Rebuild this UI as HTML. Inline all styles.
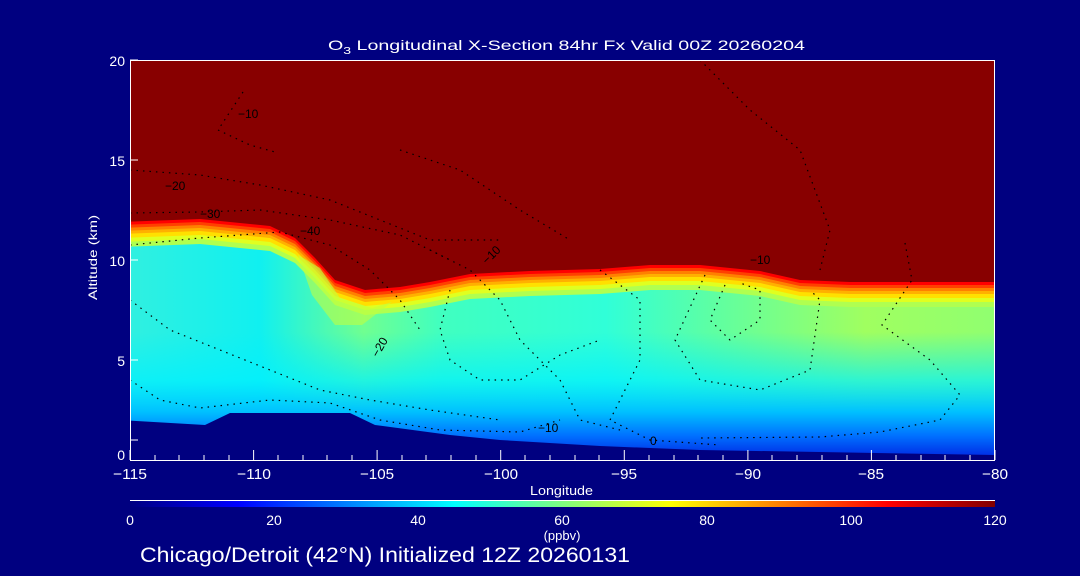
<!DOCTYPE html>
<html><head><meta charset="utf-8"><style>
html,body{margin:0;padding:0;background:#000080;}
svg{display:block;font-family:"Liberation Sans",sans-serif;}
text{fill:#fff;}
</style></head><body>
<svg width="1080" height="576" viewBox="0 0 1080 576" xmlns="http://www.w3.org/2000/svg" xmlns:xlink="http://www.w3.org/1999/xlink">
<defs>
<clipPath id="pc"><rect x="130" y="60" width="865" height="400"/></clipPath>
<path id="tp" d="M120 222 L200 219 L270 226 L295 238 L315 258 L335 280 L365 290 L400 287 L430 282 L470 274 L530 271 L600 269 L650 265 L700 265 L760 271 L800 280 L850 282 L1000 282 L1000 470 L120 470Z"/>
<linearGradient id="hz" x1="130" y1="0" x2="995" y2="0" gradientUnits="userSpaceOnUse">
<stop offset="0" stop-color="#30f0e0"/>
<stop offset="0.15" stop-color="#10f0f0"/>
<stop offset="0.27" stop-color="#70ff90"/>
<stop offset="0.36" stop-color="#40ffc0"/>
<stop offset="0.55" stop-color="#30ffd8"/>
<stop offset="0.68" stop-color="#60ffa0"/>
<stop offset="0.85" stop-color="#a0ff60"/>
<stop offset="1" stop-color="#90ff70"/>
</linearGradient>
<linearGradient id="vt" x1="0" y1="60" x2="0" y2="460" gradientUnits="userSpaceOnUse">
<stop offset="0.68" stop-color="#00f0ff" stop-opacity="0"/>
<stop offset="0.8" stop-color="#00f0ff" stop-opacity="0.7"/>
<stop offset="0.88" stop-color="#00c0ff" stop-opacity="1"/>
<stop offset="0.94" stop-color="#0070ff" stop-opacity="1"/>
<stop offset="1" stop-color="#0020e0" stop-opacity="1"/>
</linearGradient>
<linearGradient id="cb" x1="0" y1="0" x2="1" y2="0">
<stop offset="0" stop-color="#000080"/>
<stop offset="0.125" stop-color="#0000ff"/>
<stop offset="0.375" stop-color="#00ffff"/>
<stop offset="0.625" stop-color="#ffff00"/>
<stop offset="0.875" stop-color="#ff0000"/>
<stop offset="1" stop-color="#800000"/>
</linearGradient>
</defs>
<g clip-path="url(#pc)">
<rect x="130" y="60" width="865" height="400" fill="#880000"/>
<use xlink:href="#tp" fill="#ff0000"/>
<use xlink:href="#tp" transform="translate(0,3)" fill="#ff4000"/>
<use xlink:href="#tp" transform="translate(0,6)" fill="#ff8000"/>
<use xlink:href="#tp" transform="translate(0,9)" fill="#ffb000"/>
<use xlink:href="#tp" transform="translate(0,12)" fill="#ffe000"/>
<use xlink:href="#tp" transform="translate(0,16)" fill="#e0ff20"/>
<use xlink:href="#tp" transform="translate(0,20)" fill="#b0ff50"/>
<use xlink:href="#tp" transform="translate(0,25)" fill="url(#hz)"/>
<path d="M298 255 L320 268 L340 298 L372 308 L392 302 L362 325 L335 325 L312 295Z" fill="#c0ff40" opacity="0.6"/>
<rect x="130" y="60" width="865" height="400" fill="url(#vt)"/>
<path d="M120 420 L205 425 L230 413 L350 413 L375 425 L450 435 L500 440 L600 446 L700 450 L995 455 L1000 470 L120 470Z" fill="#000080"/>
<g fill="none" stroke="#000" stroke-width="1.2" stroke-dasharray="1.5,5">
<path d="M243 92 L218 130 L250 145 L275 152"/>
<path d="M130 170 L200 175 L260 185 L330 200 L380 220 L430 240 L500 240"/>
<path d="M130 213 L200 212 L260 210 L330 220 L400 235 L450 260"/>
<path d="M130 245 L200 238 L280 232 L330 245 L370 270 L400 300 L420 330"/>
<path d="M400 150 L460 170 L520 210 L570 240"/>
<path d="M430 250 L470 270 L500 300 L520 340 L560 380 L580 420 L620 430"/>
<path d="M450 290 L440 330 L450 360 L480 380 L520 380 L560 355 L600 340"/>
<path d="M600 270 L640 300 L640 360 L610 420 L650 440 L720 445"/>
<path d="M700 60 L750 110 L800 150 L830 230 L820 270"/>
<path d="M705 275 L675 340 L700 380 L760 390 L810 370 L820 300 L810 290"/>
<path d="M725 285 L710 320 L730 340 L760 320 L760 290 L740 283"/>
<path d="M905 243 L912 280 L882 325 L930 360 L960 395 L940 420 L880 432 L820 437 L700 438"/>
<path d="M130 300 L170 330 L220 350 L270 370 L320 390 L370 400 L430 410 L500 420"/>
<path d="M130 380 L160 400 L200 408 L270 400 L330 403 L380 420 L440 430 L520 432 L560 420"/>
</g>
<g font-size="12">
<text x="238" y="118" style="fill:#000">−10</text>
<text x="165" y="190" style="fill:#000">−20</text>
<text x="200" y="218" style="fill:#000">−30</text>
<text x="300" y="235" style="fill:#000">−40</text>
<text x="487" y="265" style="fill:#000" transform="rotate(-45 487 265)">−10</text>
<text x="378" y="358" style="fill:#000" transform="rotate(-60 378 358)">−20</text>
<text x="538" y="432" style="fill:#000">−10</text>
<text x="750" y="264" style="fill:#000">−10</text>
<text x="650" y="445" style="fill:#000">0</text>
</g>
</g>
<g stroke="#fff" stroke-width="1" fill="none">
<line x1="130" y1="60.5" x2="995" y2="60.5"/>
<line x1="994.5" y1="60" x2="994.5" y2="460"/>
<line x1="130" y1="460.5" x2="995" y2="460.5"/>
<line x1="130.5" y1="60" x2="130.5" y2="460"/>
<path d="M130 60h8M130 160h8M130 260h8M130 360h8M130 440h8"/>
<path d="M130 460v-10M253.6 460v-10M377.1 460v-10M500.7 460v-10M624.3 460v-10M747.9 460v-10M871.4 460v-10M995 460v-10"/>
<path d="M155 460v-5M179 460v-5M204 460v-5M229 460v-5M278 460v-5M303 460v-5M327 460v-5M352 460v-5M402 460v-5M426 460v-5M451 460v-5M476 460v-5M525 460v-5M550 460v-5M575 460v-5M599 460v-5M649 460v-5M674 460v-5M698 460v-5M723 460v-5M772 460v-5M797 460v-5M822 460v-5M847 460v-5M896 460v-5M921 460v-5M945 460v-5M970 460v-5"/>
</g>
<g font-size="14">
<text x="328" y="50" textLength="477" lengthAdjust="spacingAndGlyphs">O<tspan font-size="10" dy="4">3</tspan><tspan dy="-4"> Longitudinal X-Section 84hr  Fx Valid 00Z 20260204</tspan></text>
<text x="125" y="66" text-anchor="end">20</text>
<text x="125" y="166" text-anchor="end">15</text>
<text x="125" y="266" text-anchor="end">10</text>
<text x="125" y="366" text-anchor="end">5</text>
<text x="125" y="460" text-anchor="end">0</text>
<text x="97" y="300" font-size="12" textLength="85" lengthAdjust="spacingAndGlyphs" transform="rotate(-90 97 300)">Altitude (km)</text>
<g font-size="15">
<text x="113" y="479" textLength="34" lengthAdjust="spacingAndGlyphs">−115</text>
<text x="237" y="479" textLength="34" lengthAdjust="spacingAndGlyphs">−110</text>
<text x="360" y="479" textLength="34" lengthAdjust="spacingAndGlyphs">−105</text>
<text x="484" y="479" textLength="34" lengthAdjust="spacingAndGlyphs">−100</text>
<text x="611" y="479" textLength="26" lengthAdjust="spacingAndGlyphs">−95</text>
<text x="735" y="479" textLength="26" lengthAdjust="spacingAndGlyphs">−90</text>
<text x="858" y="479" textLength="26" lengthAdjust="spacingAndGlyphs">−85</text>
<text x="982" y="479" textLength="26" lengthAdjust="spacingAndGlyphs">−80</text>
</g>
<text x="530" y="495" font-size="13" textLength="63" lengthAdjust="spacingAndGlyphs">Longitude</text>
</g>
<line x1="130" y1="500.5" x2="995" y2="500.5" stroke="#fff"/>
<rect x="130" y="501" width="865" height="6" fill="url(#cb)"/>
<g font-size="14">
<text x="130" y="525" text-anchor="middle">0</text>
<text x="274" y="525" text-anchor="middle">20</text>
<text x="418" y="525" text-anchor="middle">40</text>
<text x="562" y="525" text-anchor="middle">60</text>
<text x="562" y="540" text-anchor="middle" font-size="13">(ppbv)</text>
<text x="707" y="525" text-anchor="middle">80</text>
<text x="851" y="525" text-anchor="middle">100</text>
<text x="995" y="525" text-anchor="middle">120</text>
</g>
<text x="140" y="562" font-size="21" textLength="490" lengthAdjust="spacingAndGlyphs">Chicago/Detroit (42°N) Initialized 12Z 20260131</text>
</svg>
</body></html>
